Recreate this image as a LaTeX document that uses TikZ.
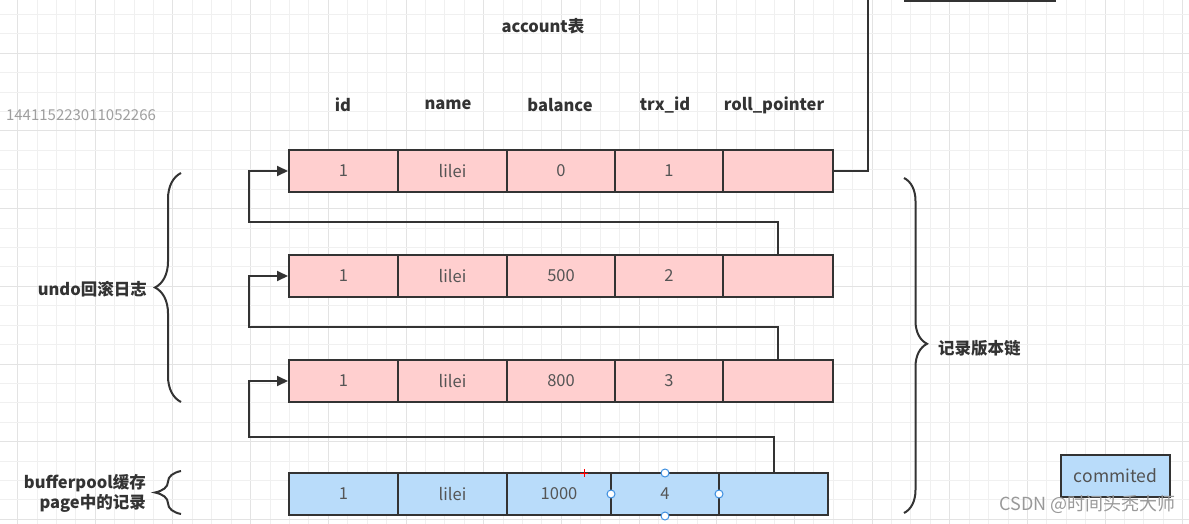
\documentclass[tikz,border=0pt]{standalone}
\usepackage{fontspec}
\setmainfont{Noto Sans CJK SC}
\usetikzlibrary{arrows.meta,decorations.pathreplacing,calc}
\definecolor{pinkf}{HTML}{FFCFCF}
\definecolor{bluef}{HTML}{B9DCFA}
\definecolor{edgec}{HTML}{333333}
\definecolor{cellt}{HTML}{555555}
\definecolor{gridminor}{HTML}{F0F0F0}
\definecolor{gridmajor}{HTML}{E3E3E3}
\definecolor{handle}{HTML}{3D8FE0}
\tikzset{
  cell/.style={draw=edgec, line width=2pt, minimum height=42pt, inner sep=0pt,
    text=cellt, font=\fontsize{16.5}{19}\selectfont},
  hdr/.style={text=edgec, font=\fontsize{16.5}{19}\selectfont\bfseries, inner sep=0pt},
  lbl/.style={text=edgec, font=\fontsize{16.5}{20}\selectfont\bfseries, inner sep=0pt, align=right},
  link/.style={draw=edgec, line width=2pt},
  linkarrow/.style={link, -{Triangle[length=11pt,width=10pt]}},
  bracestyle/.style={draw=edgec, line width=2pt, decorate},
  hdl/.style={circle, draw=handle, fill=white, line width=1pt, minimum size=8pt, inner sep=0pt}
}
\begin{document}
\begin{tikzpicture}[x=1pt,y=-1pt]
\useasboundingbox (0,0) rectangle (1189,524);
\clip (0,0) rectangle (1189,524);
\fill[white] (0,0) rectangle (1189,524);
% grid
\foreach \k in {-1,...,60} {
  \pgfmathtruncatemacro{\m}{mod(\k+4,4)}
  \ifnum\m=0
    \draw[gridmajor, line width=1pt] ({17.6+\k*19.42},0) -- ++(0,524);
  \else
    \draw[gridminor, line width=1pt] ({17.6+\k*19.42},0) -- ++(0,524);
  \fi
}
\foreach \k in {-3,...,24} {
  \pgfmathtruncatemacro{\m}{mod(\k+4,4)}
  \ifnum\m=0
    \draw[gridmajor, line width=1pt] (0,{53.3+\k*19.42}) -- ++(1189,0);
  \else
    \draw[gridminor, line width=1pt] (0,{53.3+\k*19.42}) -- ++(1189,0);
  \fi
}

% title and headers
\node[hdr] (title) at (543,26) {account表};
\node[text=gray!75, font=\fontsize{15}{17}\selectfont, inner sep=0pt] (ident) at (81,115) {144115223011052266};
\node[hdr] (hid) at (343,105) {id};
\node[hdr] (hname) at (448,105) {name};
\node[hdr] (hbal) at (560,105) {balance};
\node[hdr] (htrx) at (665,105) {trx\_id};
\node[hdr] (hroll) at (774,105) {roll\_pointer};

% pink rows
\foreach \r/\y/\bal in {1/171/0, 2/276/500, 3/381/800} {
  \node[cell, fill=pinkf, minimum width=109pt] (r\r c1) at (343.5,\y) {1};
  \node[cell, fill=pinkf, minimum width=109pt] (r\r c2) at (452.5,\y) {lilei};
  \node[cell, fill=pinkf, minimum width=108pt] (r\r c3) at (561,\y) {\bal};
  \node[cell, fill=pinkf, minimum width=108pt] (r\r c4) at (669,\y) {\r};
  \node[cell, fill=pinkf, minimum width=110pt] (r\r c5) at (778,\y) {};
}
% blue row
\node[cell, fill=bluef, minimum width=109pt] (r4c1) at (343.5,494) {1};
\node[cell, fill=bluef, minimum width=109pt] (r4c2) at (452.5,494) {lilei};
\node[cell, fill=bluef, minimum width=104pt] (r4c3) at (559,494) {1000};
\node[cell, fill=bluef, minimum width=108pt] (r4c4) at (665,494) {4};
\node[cell, fill=bluef, minimum width=109pt] (r4c5) at (773.5,494) {};

% partially visible box at the top
\node[draw=edgec, line width=2pt, fill=white, minimum width=150pt, minimum height=30pt, inner sep=0pt] (topbox) at (980,-14) {};
\coordinate (topend) at (868,-5);

% connectors
\draw[link] (r1c5.east) -| (topend);
\coordinate (lx) at (249,0);
\draw[linkarrow] (r2c5.north) -- ++(0,-32) -| (lx |- r1c1.west) -- (r1c1.west);
\draw[linkarrow] (r3c5.north) -- ++(0,-32) -| (lx |- r2c1.west) -- (r2c1.west);
\draw[linkarrow] (r4c5.north) -- ++(0,-35) -| (lx |- r3c1.west) -- (r3c1.west);

% braces
\coordinate (ub1) at (181,402);
\coordinate (ub2) at (181,173);
\draw[bracestyle, decoration={brace, amplitude=26pt, aspect=0.5}] (ub1) -- (ub2);
\node[lbl, anchor=east] (undo) at (147,289) {undo回滚日志};
\coordinate (bb1) at (181,514);
\coordinate (bb2) at (181,471);
\draw[bracestyle, decoration={brace, amplitude=26pt, aspect=0.5}] (bb1) -- (bb2);
\node[lbl, anchor=east] (bp) at (146,493) {bufferpool缓存\\page中的记录};
\coordinate (rb1) at (904,178);
\coordinate (rb2) at (904,513);
\draw[bracestyle, decoration={brace, amplitude=23pt, aspect=0.495}] (rb1) -- (rb2);
\node[lbl, anchor=west] (chain) at (938,348) {记录版本链};

% commited box
\node[draw=edgec, line width=2pt, fill=bluef, minimum width=109pt, minimum height=42pt, inner sep=0pt,
  text=edgec!85, font=\fontsize{17.5}{20}\selectfont] (commited) at (1115.5,476) {commited};

% selection handles and cursor mark
\node[hdl] (h1) at (665,473) {};
\node[hdl] (h2) at (611,494) {};
\node[hdl] (h3) at (719,494) {};
\node[hdl] (h4) at (665,516) {};
\draw[red, line width=1pt] (580,473) -- (588,473) (584,469) -- (584,477);

% watermark
\node[text=gray!80, font=\fontsize{18}{21}\selectfont, inner sep=0pt, anchor=east] (wm) at (1176,505) {CSDN @时间头秃大师};
\end{tikzpicture}
\end{document}
